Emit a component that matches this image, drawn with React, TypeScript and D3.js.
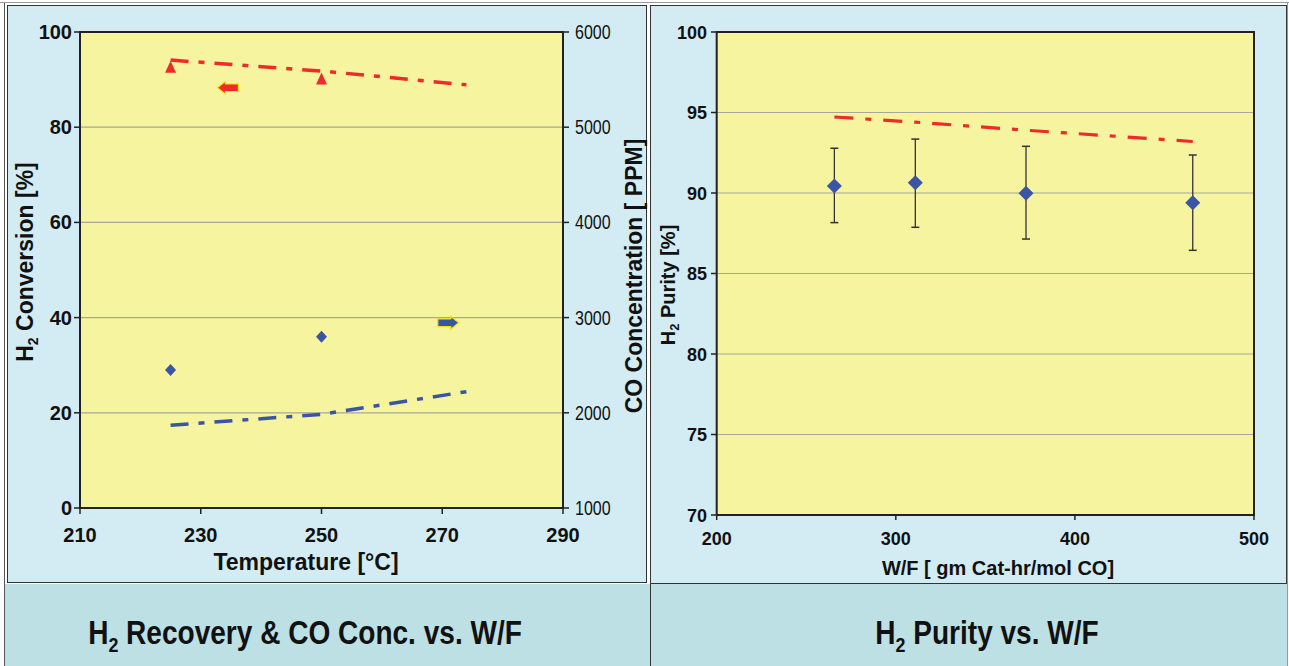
import React from "react";
import * as d3 from "d3";

// ---------- data ----------
const TEMP_MEASURED = [225, 250];
const H2_CONVERSION = [92.5, 90.0];
const CO_CONCENTRATION = [2450, 2800];

const TEMP_MODEL = [225, 250, 274];
const H2_CONVERSION_MODEL = [94.1, 91.8, 88.9];
const CO_CONCENTRATION_MODEL = [1869, 1984, 2222];

const LEFT_X_TICKS = [210, 230, 250, 270, 290];
const LEFT_Y_TICKS = [0, 20, 40, 60, 80, 100];
const RIGHT_AXIS_TICKS = [1000, 2000, 3000, 4000, 5000, 6000];

// arrow annotations (data coordinates)
const RED_ARROW = { temp: 234.5, value: 88.3 };
const BLUE_ARROW = { temp: 271, value: 2946 };

const WF = [265.7, 310.9, 372.7, 465.8];
const PURITY = [90.43, 90.64, 89.98, 89.4];
const PURITY_HIGH = [92.78, 93.35, 92.9, 92.36];
const PURITY_LOW = [88.16, 87.87, 87.14, 86.44];
const WF_MODEL = [265.7, 310.9, 372.7, 465.8];
const PURITY_MODEL = [94.72, 94.4, 93.9, 93.2];

const WF_TICKS = [200, 300, 400, 500];
const PURITY_TICKS = [70, 75, 80, 85, 90, 95, 100];

// ---------- styles ----------
const PANEL = "#D3ECF3";
const CAPTION = "#BDE0E4";
const PLOT = "#F7F49F";
const RED = "#EE2A2A";
const BLUE = "#3A55A4";
const GRID = "#A6A69A";
const AXIS = "#222";
const FONT = "'Liberation Sans', Arial, sans-serif";

function arrowPath(cx: number, cy: number, dir: number) {
  const L = 21, hh = 6.5, bh = 3.8, hl = 8;
  const tip = cx + (dir * L) / 2;
  const tail = cx - (dir * L) / 2;
  const neck = tip - dir * hl;
  return `M${tip},${cy} L${neck},${cy - hh} L${neck},${cy - bh} L${tail},${cy - bh} L${tail},${cy + bh} L${neck},${cy + bh} L${neck},${cy + hh} Z`;
}

function LeftChart() {
  const x = d3.scaleLinear().domain([210, 290]).range([80, 563]);
  const y = d3.scaleLinear().domain([0, 100]).range([508, 32]);
  const y2 = d3.scaleLinear().domain([1000, 6000]).range([508, 32]);
  const redLine = d3.line<number>().x((_, i) => x(TEMP_MODEL[i])).y((d) => y(d));
  const blueLine = d3.line<number>().x((_, i) => x(TEMP_MODEL[i])).y((d) => y2(d));
  return (
    <g>
      <rect x={80} y={32} width={483} height={476} fill={PLOT} />
      {LEFT_Y_TICKS.filter((t) => t > 0 && t < 100).map((t) => (
        <line key={t} x1={80} x2={563} y1={y(t)} y2={y(t)} stroke={GRID} strokeWidth={1.2} />
      ))}
      <rect x={80} y={32} width={483} height={476} fill="none" stroke={AXIS} strokeWidth={2} />
      {LEFT_Y_TICKS.map((t) => (
        <g key={t}>
          <line x1={74} x2={80} y1={y(t)} y2={y(t)} stroke={AXIS} strokeWidth={1.5} />
          <text x={72} y={y(t) + 7} textAnchor="end" fontFamily={FONT} fontWeight="bold" fontSize={20} fill="#111">
            {t}
          </text>
        </g>
      ))}
      {RIGHT_AXIS_TICKS.map((t) => (
        <g key={t}>
          <line x1={563} x2={569} y1={y2(t)} y2={y2(t)} stroke={AXIS} strokeWidth={1.5} />
          <text transform={`translate(575,${y2(t) + 7}) scale(0.8,1)`} textAnchor="start" fontFamily={FONT} fontSize={20} fill="#111">
            {t}
          </text>
        </g>
      ))}
      {LEFT_X_TICKS.map((t) => (
        <g key={t}>
          <line x1={x(t)} x2={x(t)} y1={508} y2={514} stroke={AXIS} strokeWidth={1.5} />
          <text x={x(t)} y={542} textAnchor="middle" fontFamily={FONT} fontWeight="bold" fontSize={20} fill="#111">
            {t}
          </text>
        </g>
      ))}
      <path d={redLine(H2_CONVERSION_MODEL) || ""} fill="none" stroke={RED} strokeWidth={3.5} strokeDasharray="18 10 6 10" />
      <path d={blueLine(CO_CONCENTRATION_MODEL) || ""} fill="none" stroke={BLUE} strokeWidth={3.5} strokeDasharray="18 10 6 10" />
      {TEMP_MEASURED.map((t, i) => {
        const cx = x(t), cy = y(H2_CONVERSION[i]);
        return <path key={"tr" + i} d={`M${cx},${cy - 7} L${cx + 5.5},${cy + 5} L${cx - 5.5},${cy + 5} Z`} fill={RED} />;
      })}
      {TEMP_MEASURED.map((t, i) => {
        const cx = x(t), cy = y2(CO_CONCENTRATION[i]);
        return <path key={"dm" + i} d={`M${cx},${cy - 6} L${cx + 5.5},${cy} L${cx},${cy + 6} L${cx - 5.5},${cy} Z`} fill={BLUE} />;
      })}
      <path d={arrowPath(x(RED_ARROW.temp), y(RED_ARROW.value), -1)} fill={RED} stroke="#F5E020" strokeWidth={1.2} />
      <path d={arrowPath(x(BLUE_ARROW.temp), y2(BLUE_ARROW.value), 1)} fill={BLUE} stroke="#F5E020" strokeWidth={1.2} />
      <text transform="translate(33,262) rotate(-90)" textAnchor="middle" fontFamily={FONT} fontWeight="bold" fontSize={23} fill="#111">
        H<tspan fontSize={14} dy={5}>2</tspan>
        <tspan dy={-5}> Conversion [%]</tspan>
      </text>
      <text transform="translate(642,276) rotate(-90)" textAnchor="middle" fontFamily={FONT} fontWeight="bold" fontSize={23} fill="#111">
        CO Concentration [ PPM]
      </text>
      <text x={306} y={570} textAnchor="middle" fontFamily={FONT} fontWeight="bold" fontSize={23} fill="#111">
        Temperature [°C]
      </text>
    </g>
  );
}

function RightChart() {
  const x = d3.scaleLinear().domain([200, 500]).range([716.7, 1254]);
  const y = d3.scaleLinear().domain([70, 100]).range([515, 32]);
  const line = d3.line<number>().x((_, i) => x(WF_MODEL[i])).y((d) => y(d));
  return (
    <g>
      <rect x={716.7} y={32} width={537.3} height={483} fill={PLOT} />
      {PURITY_TICKS.filter((t) => t > 70 && t < 100).map((t) => (
        <line key={t} x1={716.7} x2={1254} y1={y(t)} y2={y(t)} stroke={GRID} strokeWidth={1.2} />
      ))}
      <rect x={716.7} y={32} width={537.3} height={483} fill="none" stroke={AXIS} strokeWidth={2} />
      {PURITY_TICKS.map((t) => (
        <g key={t}>
          <line x1={711} x2={716.7} y1={y(t)} y2={y(t)} stroke={AXIS} strokeWidth={1.5} />
          <text x={707} y={y(t) + 6.5} textAnchor="end" fontFamily={FONT} fontWeight="bold" fontSize={18} fill="#111">
            {t}
          </text>
        </g>
      ))}
      {WF_TICKS.map((t) => (
        <g key={t}>
          <line x1={x(t)} x2={x(t)} y1={515} y2={520} stroke={AXIS} strokeWidth={1.5} />
          <text x={x(t)} y={545} textAnchor="middle" fontFamily={FONT} fontWeight="bold" fontSize={18} fill="#111">
            {t}
          </text>
        </g>
      ))}
      <path d={line(PURITY_MODEL) || ""} fill="none" stroke={RED} strokeWidth={3.2} strokeDasharray="19 12 6 12" />
      {WF.map((w, i) => {
        const cx = x(w);
        return (
          <g key={i}>
            <line x1={cx} x2={cx} y1={y(PURITY_HIGH[i])} y2={y(PURITY_LOW[i])} stroke="#333" strokeWidth={1.3} />
            <line x1={cx - 4} x2={cx + 4} y1={y(PURITY_HIGH[i])} y2={y(PURITY_HIGH[i])} stroke="#333" strokeWidth={1.5} />
            <line x1={cx - 4} x2={cx + 4} y1={y(PURITY_LOW[i])} y2={y(PURITY_LOW[i])} stroke="#333" strokeWidth={1.5} />
            <path d={`M${cx},${y(PURITY[i]) - 7.5} L${cx + 7.5},${y(PURITY[i])} L${cx},${y(PURITY[i]) + 7.5} L${cx - 7.5},${y(PURITY[i])} Z`} fill={BLUE} />
          </g>
        );
      })}
      <text transform="translate(675,285) rotate(-90)" textAnchor="middle" fontFamily={FONT} fontWeight="bold" fontSize={20} fill="#111">
        H<tspan fontSize={13} dy={4}>2</tspan>
        <tspan dy={-4}> Purity [%]</tspan>
      </text>
      <text x={998} y={575} textAnchor="middle" fontFamily={FONT} fontWeight="bold" fontSize={20} fill="#111">
        W/F [ gm Cat-hr/mol CO]
      </text>
    </g>
  );
}

export default function App() {
  return (
    <svg width={1289} height={666} style={{ position: "absolute", left: 0, top: 0 }}>
      <rect x={0} y={0} width={1289} height={666} fill="#fff" />
      <rect x={4} y={584} width={1283} height={82} fill={CAPTION} />
      <line x1={0} x2={1289} y1={2.5} y2={2.5} stroke="#999" strokeWidth={1} />
      <rect x={7.5} y={5.5} width={639} height={577} fill={PANEL} stroke="#333" strokeWidth={1} />
      <rect x={650.5} y={5.5} width={636} height={578} fill={PANEL} stroke="#333" strokeWidth={1} />
      <line x1={4.5} x2={4.5} y1={3} y2={666} stroke="#555" strokeWidth={1} />
      <line x1={650.5} x2={650.5} y1={583} y2={666} stroke="#333" strokeWidth={1} />
      <line x1={1287.5} x2={1287.5} y1={3} y2={666} stroke="#999" strokeWidth={1} />
      <LeftChart />
      <RightChart />
      <text transform="translate(305,644) scale(0.85,1)" textAnchor="middle" fontFamily={FONT} fontWeight="bold" fontSize={33} fill="#111">
        H<tspan fontSize={21} dy={8}>2</tspan>
        <tspan dy={-8}> Recovery &amp; CO Conc. vs. W/F</tspan>
      </text>
      <text transform="translate(987,644) scale(0.85,1)" textAnchor="middle" fontFamily={FONT} fontWeight="bold" fontSize={33} fill="#111">
        H<tspan fontSize={21} dy={8}>2</tspan>
        <tspan dy={-8}> Purity vs. W/F</tspan>
      </text>
    </svg>
  );
}
